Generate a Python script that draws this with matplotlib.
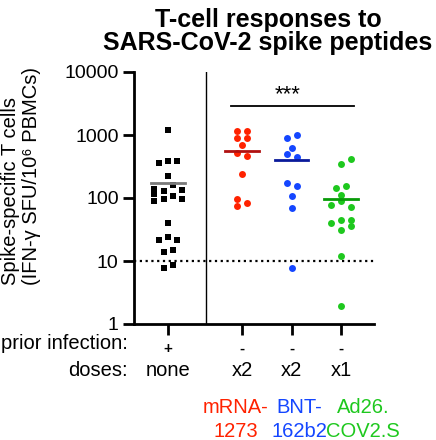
import numpy as np
import matplotlib
matplotlib.use("Agg")
import matplotlib.pyplot as plt
import matplotlib.transforms as mtransforms

plt.rcParams['font.family'] = ['Liberation Sans', 'DejaVu Sans']

# data (SFU / 10^6 PBMCs)
none_vals = [1189, 363, 380, 390, 226, 158, 141, 128, 132, 114, 107,
             91, 97, 97, 40, 21.4, 24, 21.4, 14.1, 14.9, 7.85, 8.5]
mrna_vals = [1145, 1145, 887, 887, 686, 525, 460, 238, 98, 82, 76]
bnt_vals = [988, 897, 623, 507, 454, 175, 157, 109, 69, 7.76]
ad26_vals = [422, 351, 146, 153, 110, 89.5, 77.4, 72, 40, 45, 45,
             31.5, 35.5, 11.9, 1.93]
group_means = [173, 565, 398, 96]

prior_infection = ['+', '-', '-', '-']
doses = ['none', 'x2', 'x2', 'x1']
vaccine_names = [None, ('mRNA-', '1273'), ('BNT-', '162b2'), ('Ad26.', 'COV2.S')]

# horizontal positions / jitter (layout only)
xpos = [0, 1.5, 2.5, 3.5]
none_jit = [0, -0.19, 0, 0.18, 0, 0.095, -0.28, -0.09, 0.28, -0.28, 0.095,
            -0.28, -0.09, 0.28, 0, -0.19, 0, 0.18, -0.09, 0.095, -0.09, 0.095]
mrna_jit = [-0.1, 0.1, -0.1, 0.1, 0, -0.1, 0.1, 0, -0.1, 0.1, -0.1]
bnt_jit = [0.1, -0.1, 0, -0.1, 0.1, -0.1, 0.1, 0, 0, 0]
ad26_jit = [0.21, 0, -0.1, 0.11, 0, 0, -0.2, 0.21, -0.2, 0, 0.21, 0, 0.21, 0, 0]

dot_colors = ['black', '#FF2200', '#1446FF', '#1EC81E']
mean_colors = ['#7a7a7a', '#B01010', '#0A1A9A', '#089A08']
name_x = [None, 1.376, 2.65, 3.945]

fig = plt.figure(figsize=(4.36, 4.40), dpi=100)
ax = fig.add_axes([134 / 436, 1 - 324 / 440, 240 / 436, 252 / 440])

groups = [(none_vals, none_jit), (mrna_vals, mrna_jit),
          (bnt_vals, bnt_jit), (ad26_vals, ad26_jit)]
for i, (vals, jit) in enumerate(groups):
    xs = xpos[i] + np.array(jit)
    if i == 0:
        ax.plot(xs, vals, 's', color='black', ms=4.0, mew=0, zorder=3)
    else:
        ax.plot(xs, vals, 'o', color=dot_colors[i], ms=5.0, mew=0, zorder=3)
    ax.plot([xpos[i] - 0.34, xpos[i] + 0.34], [group_means[i]] * 2,
            color=mean_colors[i], lw=2.0, zorder=4)

ax.set_yscale('log')
ax.set_ylim(1, 10000)
ax.set_xlim(-0.688, 4.167)
ax.set_yticks([1, 10, 100, 1000, 10000])
ax.set_yticklabels(['1', '10', '100', '1000', '10000'])
ax.yaxis.set_minor_locator(matplotlib.ticker.NullLocator())
ax.set_xticks(xpos)
ax.set_xticklabels([])
ax.tick_params(axis='both', width=2, length=8, labelsize=14, color='black')
ax.tick_params(axis='y', pad=3)
for s in ['top', 'right']:
    ax.spines[s].set_visible(False)
for s in ['left', 'bottom']:
    ax.spines[s].set_linewidth(2)

# detection limit and separator
ax.axhline(10, color='black', lw=1.6, ls=(0, (1, 1.6)), zorder=2)
ax.axvline(0.77, color='black', lw=1.0, zorder=2)

# significance bar
ax.plot([1.27, 3.76], [2860, 2860], color='black', lw=1.3)
ax.text(2.41, 3600, '***', ha='center', va='baseline', fontsize=16)

# title
fig.text(268 / 436, 1 - 27 / 440, 'T-cell responses to', ha='center',
         va='baseline', fontsize=18, fontweight='bold')
fig.text(268 / 436, 1 - 50 / 440, 'SARS-CoV-2 spike peptides', ha='center',
         va='baseline', fontsize=18, fontweight='bold')

# y label (two lines, start-aligned)
fig.text(11 / 436, 1 - 285 / 440, 'Spike-specific T cells', rotation=90,
         rotation_mode='anchor', ha='left', va='center', fontsize=14.5)
fig.text(31 / 436, 1 - 285 / 440, '(IFN-γ SFU/10⁶ PBMCs)', rotation=90,
         rotation_mode='anchor', ha='left', va='center', fontsize=14.5)

# rows under the axis
tr = mtransforms.blended_transform_factory(ax.transData, fig.transFigure)
fig.text(128 / 436, 1 - 349 / 440, 'prior infection:', ha='right',
         va='baseline', fontsize=14.5)
fig.text(128 / 436, 1 - 376 / 440, 'doses:', ha='right', va='baseline',
         fontsize=14.5)
for i in range(4):
    ax.text(xpos[i], 1 - 349 / 440, prior_infection[i], transform=tr,
            ha='center', va='center', fontsize=11, fontweight='bold')
    ax.text(xpos[i], 1 - 376 / 440, doses[i], transform=tr, ha='center',
            va='baseline', fontsize=14.5)
    if vaccine_names[i] is not None:
        ax.text(name_x[i], 1 - 412.7 / 440, vaccine_names[i][0], transform=tr,
                ha='center', va='baseline', fontsize=14.5, color=dot_colors[i])
        ax.text(name_x[i], 1 - 436.7 / 440, vaccine_names[i][1], transform=tr,
                ha='center', va='baseline', fontsize=14.5, color=dot_colors[i])

fig.savefig('out.png', dpi=100)
